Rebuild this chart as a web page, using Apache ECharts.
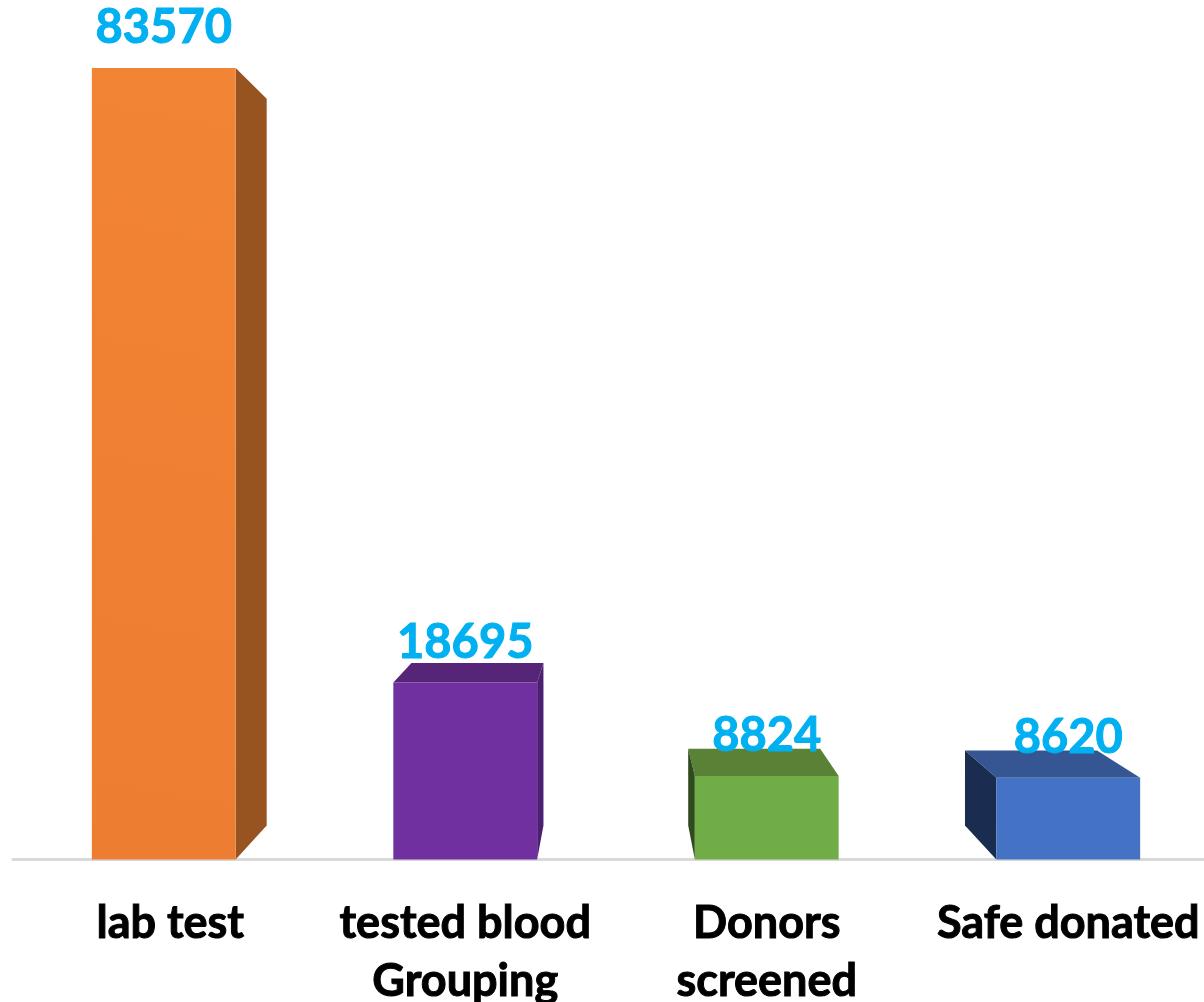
<!DOCTYPE html>
<html>
<head>
<meta charset="utf-8">
<title>Blood tests</title>
<script src="https://cdn.jsdelivr.net/npm/echarts@6/dist/echarts.min.js"></script>
<style>
  html, body { margin: 0; padding: 0; background: #fff; overflow: hidden; }
  #chart { width: 1204px; height: 1002px; }
</style>
</head>
<body>
<div id="chart"></div>
<script>
const categories = ['lab test', 'tested blood\nGrouping', 'Donors\nscreened', 'Safe donated']
const values = [83570, 18695, 8824, 8620]

// front, top and side face of each box
const frontColors = [['#ED7D31', '#F28435'], ['#7030A0', '#7030A0'], ['#70AD47', '#70AD47'], ['#4472C4', '#4472C4']]
const topColors = ['#975320', '#562578', '#5A8237', '#365593']
const sideColors = ['#975320', '#4B2073', '#2F4A1E', '#1A2C50']

// the boxes share one vanishing point, back face is the front scaled towards it
const vanish = [614, 445]
const backScale = 0.918
const barRatio = 0.477

const toBack = (p) => [
  vanish[0] + backScale * (p[0] - vanish[0]),
  vanish[1] + backScale * (p[1] - vanish[1])
]

const face = (points, fill) => ({ type: 'polygon', shape: { points }, style: { fill } })

const renderBox = (params, api) => {
  const i = params.dataIndex
  const top = api.coord([api.value(0), api.value(1)])
  const base = api.coord([api.value(0), 0])
  const half = api.size([1, 0])[0] * barRatio / 2

  const tl = [top[0] - half, top[1]]
  const tr = [top[0] + half, top[1]]
  const bl = [top[0] - half, base[1]]
  const br = [top[0] + half, base[1]]
  const children = []

  // only the faces turned towards the vanishing point can be seen
  if (top[1] > vanish[1]) {
    children.push(face([tl, tr, toBack(tr), toBack(tl)], topColors[i]))
  }
  if (tr[0] < vanish[0]) {
    children.push(face([tr, toBack(tr), toBack(br), br], sideColors[i]))
  } else if (tl[0] > vanish[0]) {
    children.push(face([tl, toBack(tl), toBack(bl), bl], sideColors[i]))
  }

  children.push({
    type: 'rect',
    shape: { x: tl[0], y: tl[1], width: half * 2, height: base[1] - top[1] },
    style: {
      fill: new echarts.graphic.LinearGradient(0, 1, 1, 0, [
        { offset: 0, color: frontColors[i][0] },
        { offset: 1, color: frontColors[i][1] }
      ])
    }
  })
  children.push({
    type: 'text',
    style: {
      text: String(api.value(1)),
      x: top[0],
      y: top[1] - 40,
      align: 'center',
      verticalAlign: 'middle',
      fill: '#00B0F0',
      stroke: '#00B0F0',
      lineWidth: 1,
      font: 'bold 47px Lato'
    }
  })
  return { type: 'group', children }
}

const labelFont = {
  color: '#000',
  fontFamily: 'Lato',
  fontWeight: 'bold',
  fontSize: 45,
  lineHeight: 58,
  textBorderColor: '#000',
  textBorderWidth: 1
}

const chartInstance = echarts.init(document.getElementById('chart'))
chartInstance.setOption({
  animation: false,
  grid: { left: 13, width: 1206, top: 7, bottom: 142.5, outerBoundsMode: 'none' },
  xAxis: {
    type: 'category',
    data: categories,
    axisTick: { show: false },
    axisLine: { lineStyle: { color: '#D9D9D9', width: 3 } },
    axisLabel: {
      ...labelFont,
      interval: 0,
      margin: 35,
      // first label sits a little right of its bar in the original
      formatter: (value, index) => (index === 0 ? `{shifted|${value}}` : value),
      rich: { shifted: { ...labelFont, padding: [0, 0, 0, 13] } }
    }
  },
  yAxis: { type: 'value', min: 0, max: 90000, show: false },
  series: [
    {
      type: 'custom',
      renderItem: renderBox,
      encode: { x: 0, y: 1 },
      clip: false,
      data: values.map((v, i) => [i, v])
    }
  ]
})
</script>
</body>
</html>
